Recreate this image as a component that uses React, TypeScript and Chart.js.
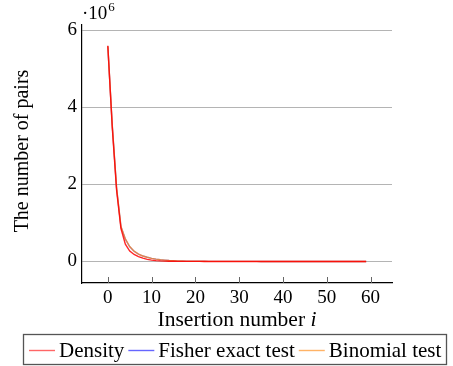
import { useEffect, useRef } from "react";
import { Chart, registerables } from "chart.js";

Chart.register(...registerables);

const INSERTION = [
  0, 1, 2, 3, 4, 5, 6, 7, 8, 9, 10, 11, 12, 13, 14, 15, 16, 17, 18, 19,
  20, 21, 22, 23, 24, 25, 26, 27, 28, 29, 30, 31, 32, 33, 34, 35, 36, 37, 38, 39,
  40, 41, 42, 43, 44, 45, 46, 47, 48, 49, 50, 51, 52, 53, 54, 55, 56, 57, 58, 59,
];

const DENSITY = [
  5600000, 3500000, 1850000, 850000, 450000, 270000, 180000, 125000, 85000, 55000,
  35000, 22000, 14000, 9000, 6000, 4000, 2700, 1800, 1200, 800,
  550, 380, 260, 180, 120, 85, 60, 42, 30, 21,
  15, 11, 8, 6, 4, 3, 2, 2, 1, 1,
  1, 1, 1, 0, 0, 0, 0, 0, 0, 0,
  0, 0, 0, 0, 0, 0, 0, 0, 0, 0,
];

const FISHER = [
  5580000, 3550000, 1900000, 900000, 580000, 380000, 265000, 190000, 140000, 108000,
  80000, 60000, 45000, 34000, 25000, 19000, 14500, 11200, 8600, 6600,
  5200, 4100, 3300, 2600, 2100, 1700, 1400, 1100, 900, 750,
  620, 510, 420, 350, 290, 240, 200, 170, 140, 120,
  100, 85, 72, 61, 52, 44, 38, 32, 27, 23,
  20, 17, 14, 12, 10, 9, 8, 7, 6, 5,
];

const BINOMIAL = [
  5590000, 3560000, 1910000, 905000, 585000, 385000, 268000, 192000, 141000, 109000,
  81000, 61000, 45500, 34500, 25500, 19300, 14700, 11400, 8700, 6700,
  5300, 4200, 3350, 2650, 2150, 1750, 1420, 1120, 920, 760,
  630, 520, 430, 355, 295, 245, 205, 172, 142, 122,
  102, 87, 73, 62, 53, 45, 39, 33, 28, 24,
  20, 17, 15, 12, 10, 9, 8, 7, 6, 5,
];

const SERIES_LABELS = ["Density", "Fisher exact test", "Binomial test"];
const X_TICKS = [0, 10, 20, 30, 40, 50, 60];
const Y_TICKS = [0, 2000000, 4000000, 6000000];
const X_TITLE = "Insertion number ";
const X_TITLE_VAR = "i";
const Y_TITLE = "The number of pairs";
const Y_EXPONENT_BASE = "·10";
const Y_EXPONENT = "6";

const FONT = '"Liberation Serif", "DejaVu Serif", serif';
const COLORS = ["rgba(255,0,0,0.6)", "rgba(0,0,255,0.6)", "rgba(255,128,0,0.6)"];
const LINE_COLORS = ["rgba(255,0,0,0.85)", "rgba(0,0,255,0.45)", "rgba(255,128,0,0.7)"];
const DRAW_ORDER = [0, 2, 1];

const decorPlugin = {
  id: "decor",
  afterDraw(chart: any) {
    const ctx: CanvasRenderingContext2D = chart.ctx;
    const { left, right, bottom } = chart.chartArea;
    const xs = chart.scales.x;
    ctx.save();

    // inside tick marks on x axis
    ctx.strokeStyle = "#666";
    ctx.lineWidth = 1;
    X_TICKS.forEach((v) => {
      const px = Math.round(xs.getPixelForValue(v)) + 0.5;
      ctx.beginPath();
      ctx.moveTo(px, bottom);
      ctx.lineTo(px, bottom - 6);
      ctx.stroke();
    });

    ctx.fillStyle = "#000";
    ctx.textBaseline = "alphabetic";
    ctx.textAlign = "left";

    // exponent marker
    ctx.font = `19px ${FONT}`;
    const baseW = ctx.measureText(Y_EXPONENT_BASE).width;
    ctx.fillText(Y_EXPONENT_BASE, 82, 19);
    ctx.font = `13px ${FONT}`;
    ctx.fillText(Y_EXPONENT, 82 + baseW + 1, 11);

    // x title
    ctx.font = `21.5px ${FONT}`;
    const w1 = ctx.measureText(X_TITLE).width;
    ctx.font = `italic 21.5px ${FONT}`;
    const w2 = ctx.measureText(X_TITLE_VAR).width;
    const cx = (left + right) / 2;
    const sx = cx - (w1 + w2) / 2;
    ctx.font = `21.5px ${FONT}`;
    ctx.fillText(X_TITLE, sx, 326);
    ctx.font = `italic 21.5px ${FONT}`;
    ctx.fillText(X_TITLE_VAR, sx + w1, 326);

    // y title
    ctx.save();
    ctx.font = `20px ${FONT}`;
    ctx.textAlign = "center";
    ctx.translate(28, 151);
    ctx.rotate(-Math.PI / 2);
    ctx.fillText(Y_TITLE, 0, 0);
    ctx.restore();

    // legend
    ctx.strokeStyle = "#555";
    ctx.lineWidth = 1.3;
    ctx.strokeRect(23.5, 334.5, 423, 30);
    ctx.font = `21px ${FONT}`;
    let x = 29;
    const ly = 350;
    chart.data.datasets.forEach((ds: any, i: number) => {
      ctx.strokeStyle = COLORS[i];
      ctx.lineWidth = 1.4;
      ctx.beginPath();
      ctx.moveTo(x, ly + 0.5);
      ctx.lineTo(x + 26, ly + 0.5);
      ctx.stroke();
      x += 30;
      ctx.fillStyle = "#000";
      ctx.fillText(ds.label, x, 357);
      x += ctx.measureText(ds.label).width + 4;
    });

    ctx.restore();
  },
};

export default function App() {
  const ref = useRef<HTMLCanvasElement>(null);

  useEffect(() => {
    if (!ref.current) return;
    const series = [DENSITY, FISHER, BINOMIAL];
    const chart = new Chart(ref.current, {
      type: "line",
      data: {
        datasets: series.map((vals, i) => ({
          label: SERIES_LABELS[i],
          data: INSERTION.map((xv, j) => ({ x: xv, y: vals[j] })),
          borderColor: LINE_COLORS[i],
          borderWidth: 1.4,
          pointRadius: 0,
          fill: false,
          tension: 0,
          order: DRAW_ORDER[i],
        })),
      },
      options: {
        animation: false,
        responsive: false,
        devicePixelRatio: 1,
        layout: { padding: { top: 25, right: 61, left: 0, bottom: 0 } },
        plugins: { legend: { display: false }, tooltip: { enabled: false } },
        scales: {
          x: {
            type: "linear",
            min: -5.9,
            max: 64.9,
            afterBuildTicks: (s: any) => {
              s.ticks = X_TICKS.map((v) => ({ value: v }));
            },
            afterFit: (s: any) => {
              s.height = 83;
            },
            grid: { display: false },
            border: { display: true, color: "#000", width: 1.2 },
            ticks: {
              color: "#000",
              font: { family: FONT, size: 19 },
              padding: -4,
              maxRotation: 0,
              autoSkip: false,
              callback: (v: any) => String(v),
            },
          },
          y: {
            type: "linear",
            min: -560000,
            max: 6140000,
            afterBuildTicks: (s: any) => {
              s.ticks = Y_TICKS.map((v) => ({ value: v }));
            },
            afterFit: (s: any) => {
              s.width = 82;
            },
            grid: { color: "#b4b4b4", lineWidth: 1, drawTicks: false },
            border: { display: true, color: "#000", width: 1.2 },
            ticks: {
              color: "#000",
              font: { family: FONT, size: 19 },
              padding: 5,
              callback: (v: any) => String(Number(v) / 1000000),
            },
          },
        },
      },
      plugins: [decorPlugin],
    });
    return () => chart.destroy();
  }, []);

  return (
    <div style={{ position: "absolute", left: 0, top: 0, width: 453, height: 366, background: "#fff" }}>
      <canvas ref={ref} width={453} height={366} />
    </div>
  );
}
